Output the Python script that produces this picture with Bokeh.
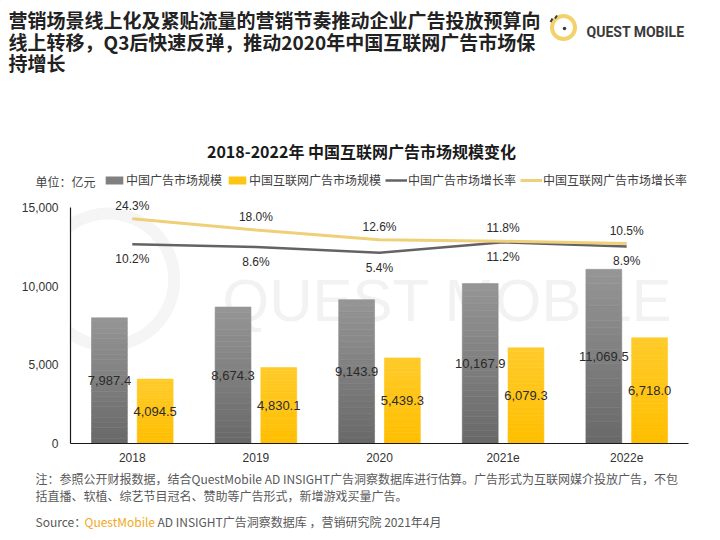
from bokeh.plotting import figure
from bokeh.layouts import column
from bokeh.models import (Range1d, FactorRange, FixedTicker, NumeralTickFormatter,
                          Label, Legend, LegendItem, ColumnDataSource, Plot)
from bokeh.transform import dodge
from bokeh.core.properties import value
from bokeh.embed import file_html
from bokeh.resources import INLINE

# ---------------- data ----------------
years = ["2018", "2019", "2020", "2021e", "2022e"]
china_ad = [7987.4, 8674.3, 9143.9, 10167.9, 11069.5]
internet_ad = [4094.5, 4830.1, 5439.3, 6079.3, 6718.0]
china_growth = [10.2, 8.6, 5.4, 11.2, 8.9]
internet_growth = [24.3, 18.0, 12.6, 11.8, 10.5]
y_ticks = [0, 5000, 10000, 15000]
series_names = ["中国广告市场规模", "中国互联网广告市场规模", "中国广告市场增长率", "中国互联网广告市场增长率"]

title_lines = ["营销场景线上化及紧贴流量的营销节奏推动企业广告投放预算向",
               "线上转移，Q3后快速反弹，推动2020年中国互联网广告市场保",
               "持增长"]
chart_title = "2018-2022年 中国互联网广告市场规模变化"
unit_text = "单位：亿元"
brand = "QUEST MOBILE"
note_lines = ["注：参照公开财报数据，结合QuestMobile AD INSIGHT广告洞察数据库进行估算。广告形式为互联网媒介投放广告，不包",
              "括直播、软植、综艺节目冠名、赞助等广告形式，新增游戏买量广告。"]
source_parts = ["Source：", "QuestMobile", " AD INSIGHT广告洞察数据库 ，营销研究院 2021年4月"]

# ---------------- layout constants (page pixels) ----------------
W = 720
HEAD_H = 195          # header strip 0..195
FOOT_TOP = 468        # footer strip 468..540
PAGE_H = 540
FL, FR = 70, 688      # main frame left/right
FT0 = HEAD_H          # main frame top
FB = 443              # main frame bottom (value 0)
Y15 = 207             # pixel of 15,000
RATE0_PX, RATE_PX_PER = 262.0, 1.8   # growth-rate placement
CJK = "Noto Sans CJK SC"
NUM = "Liberation Sans"
HAS_FRAME_ALIGN = "frame_align" in Plot.properties()


def blank(height, y_top, y_bottom):
    f = figure(width=W, height=height, x_range=Range1d(0, W), y_range=Range1d(y_bottom, y_top),
               output_backend="svg", toolbar_location=None, title=None,
               x_axis_location=None, y_axis_location=None, min_border=0,
               min_border_left=0, min_border_right=0, min_border_top=0, min_border_bottom=0)
    f.xgrid.grid_line_color = None
    f.ygrid.grid_line_color = None
    f.outline_line_color = None
    f.background_fill_color = "white"
    f.border_fill_color = "white"
    if HAS_FRAME_ALIGN:
        f.frame_align = False
    return f


def lab(fig, text, px, py, size, color="#333333", font=CJK, style="normal",
        align="left", baseline="middle", **kw):
    l = Label(x=px, y=py, text=text, text_font=font, text_font_size=f"{size}px",
              text_color=color, text_font_style=style, text_align=align,
              text_baseline=baseline, **kw)
    fig.add_layout(l)
    return l


# ================= header =================
head = blank(HEAD_H, 0, HEAD_H)
for i, t in enumerate(title_lines):
    lab(head, t, 8, 19 + 21.5 * i, 19, "#222222", style="bold")
lab(head, chart_title, 361, 150, 16, "#1a1a1a", style="bold", align="center")

# logo
head.annulus(x=[563], y=[27], inner_radius=9.5, outer_radius=13.5,
             fill_color="#F2D36A", line_color=None)
head.scatter(x=[564], y=[28], size=3.5, fill_color="#3a3a3a", line_color=None)
head.segment(x0=[550, 554.5], y0=[21.5, 18], x1=[552, 556.5], y1=[18, 15],
             line_color="#3a3a3a", line_width=2)
lab(head, brand, 586, 31, 14, "#3a3a3a", "Roboto", style="bold")

# legend row (proxy renderers kept outside the visible header area)
gray_leg = head.vbar(x=[-50], bottom=[-60], top=[-50], width=1, fill_color="#808080", line_color=None)
yel_leg = head.vbar(x=[-50], bottom=[-60], top=[-50], width=1, fill_color="#FFC515", line_color=None)
gline_leg = head.line(x=[-60, -50], y=[-50, -50], line_color="#636363", line_width=2.5)
yline_leg = head.line(x=[-60, -50], y=[-50, -50], line_color="#EFCF78", line_width=3)
legend = Legend(items=[LegendItem(label=series_names[0], renderers=[gray_leg]),
                       LegendItem(label=series_names[1], renderers=[yel_leg]),
                       LegendItem(label=series_names[2], renderers=[gline_leg]),
                       LegendItem(label=series_names[3], renderers=[yline_leg])],
                orientation="horizontal", location=(103, 7),
                padding=0, margin=0, spacing=4, glyph_width=22, glyph_height=10,
                label_height=12, label_standoff=1, label_text_font=CJK,
                label_text_font_size="12px", label_text_color="#404040",
                border_line_color=None, background_fill_alpha=0)
head.add_layout(legend)
lab(head, unit_text, 35, 181, 12, "#404040")

# ================= main chart =================
MAIN_H = FOOT_TOP - HEAD_H
y_top_val = 15000 * (FB - FT0) / (FB - Y15)
p = figure(width=W, height=MAIN_H,
           x_range=FactorRange(factors=years, range_padding=0),
           y_range=Range1d(0, y_top_val),
           output_backend="svg", toolbar_location=None, title=None,
           min_border_left=FL, min_border_right=W - FR,
           min_border_top=0, min_border_bottom=FOOT_TOP - FB)
if HAS_FRAME_ALIGN:
    p.frame_align = False
p.extra_y_ranges = {"rate": Range1d((RATE0_PX - FB) / RATE_PX_PER, (RATE0_PX - FT0) / RATE_PX_PER),
                    "py": Range1d(FB, FT0)}
p.outline_line_color = None
p.xgrid.grid_line_color = None
p.ygrid.grid_line_color = None
p.background_fill_color = "white"
p.border_fill_color = "white"

# faint watermark
wm_src = ColumnDataSource(dict(x=[years[0]], y=[279]))
p.annulus(x=dodge("x", -0.195, range=p.x_range), y="y", source=wm_src, y_range_name="py",
          inner_radius=60, outer_radius=72, inner_radius_units="screen",
          outer_radius_units="screen", fill_color="#f5f5f5", line_color=None)
lab(p, brand, 222 - FL, 300, 60, "#f2f2f2", NUM, x_units="screen", y_range_name="py",
    level="underlay")


def mix(c1, c2, t):
    return "#%02x%02x%02x" % tuple(int(round(a + (b - a) * t)) for a, b in zip(c1, c2))


N = 24
BW = 0.29
OFF = 0.185
gray_bot, gray_top = (0x68, 0x68, 0x68), (0x96, 0x96, 0x96)
yel_bot, yel_top = (0xFF, 0xBE, 0x00), (0xFF, 0xCB, 0x2A)
for vals, off, cb, ct in [(china_ad, -OFF, gray_bot, gray_top),
                          (internet_ad, OFF, yel_bot, yel_top)]:
    for i in range(N):
        f0, f1 = i / N, (i + 1) / N
        c = mix(cb, ct, (i + 0.5) / N)
        src = ColumnDataSource(dict(x=years, b=[v * f0 for v in vals], t=[v * f1 for v in vals]))
        p.vbar(x=dodge("x", off, range=p.x_range), bottom="b", top="t", width=BW,
               source=src, fill_color=c, line_color=c, line_width=0.6)

bar_src = ColumnDataSource(dict(
    x=years,
    gm=[v / 2 for v in china_ad], gl=[f"{v:,.1f}" for v in china_ad],
    ym=[v / 2 for v in internet_ad], yl=[f"{v:,.1f}" for v in internet_ad]))
for off, ycol, tcol in [(-OFF, "gm", "gl"), (OFF, "ym", "yl")]:
    p.text(x=dodge("x", off, range=p.x_range), y=ycol, text=tcol, source=bar_src,
           text_align="center", text_baseline="middle", text_font=value(NUM),
           text_font_size="13px", text_color="#2b2b2b")

rate_src = ColumnDataSource(dict(
    x=years, cg=china_growth, ig=internet_growth,
    cgl=[f"{v:.1f}%" for v in china_growth], igl=[f"{v:.1f}%" for v in internet_growth]))
p.line(x="x", y="cg", y_range_name="rate", source=rate_src, line_color="#636363", line_width=2.5)
p.line(x="x", y="ig", y_range_name="rate", source=rate_src, line_color="#EFCF78", line_width=3)
p.text(x="x", y="ig", text="igl", y_range_name="rate", source=rate_src, y_offset=-13,
       text_align="center", text_baseline="middle", text_font=value(NUM),
       text_font_size="12px", text_color="#2b2b2b")
p.text(x="x", y="cg", text="cgl", y_range_name="rate", source=rate_src, y_offset=15,
       text_align="center", text_baseline="middle", text_font=value(NUM),
       text_font_size="12px", text_color="#2b2b2b")

for ax in (p.xaxis, p.yaxis):
    ax.axis_line_color = "#1a1a1a"
    ax.axis_line_width = 1.2
    ax.major_tick_line_color = None
    ax.minor_tick_line_color = None
    ax.major_tick_out = 0
    ax.major_tick_in = 0
    ax.major_label_text_font = NUM
    ax.major_label_text_font_size = "12px"
    ax.major_label_text_color = "#333333"
p.xaxis.major_label_standoff = 9
p.yaxis.major_label_standoff = 12
p.yaxis.bounds = (0, 15000)
p.yaxis.ticker = FixedTicker(ticks=y_ticks)
p.yaxis.formatter = NumeralTickFormatter(format="0,0")

# ================= footer =================
foot = blank(PAGE_H - FOOT_TOP, FOOT_TOP, PAGE_H)
lab(foot, note_lines[0], 35, 478, 12, "#595959")
lab(foot, note_lines[1], 35, 495, 12, "#595959")
lab(foot, source_parts[0], 35, 521, 12, "#595959")
lab(foot, source_parts[1], 84, 521, 12, "#F2A81D")
lab(foot, source_parts[2], 157, 521, 12, "#595959")

if HAS_FRAME_ALIGN:
    layout = column(head, p, foot, spacing=0)
    html = file_html(layout, INLINE)
else:
    html = file_html([head, p, foot], INLINE)
open("out.html", "w").write(html)
